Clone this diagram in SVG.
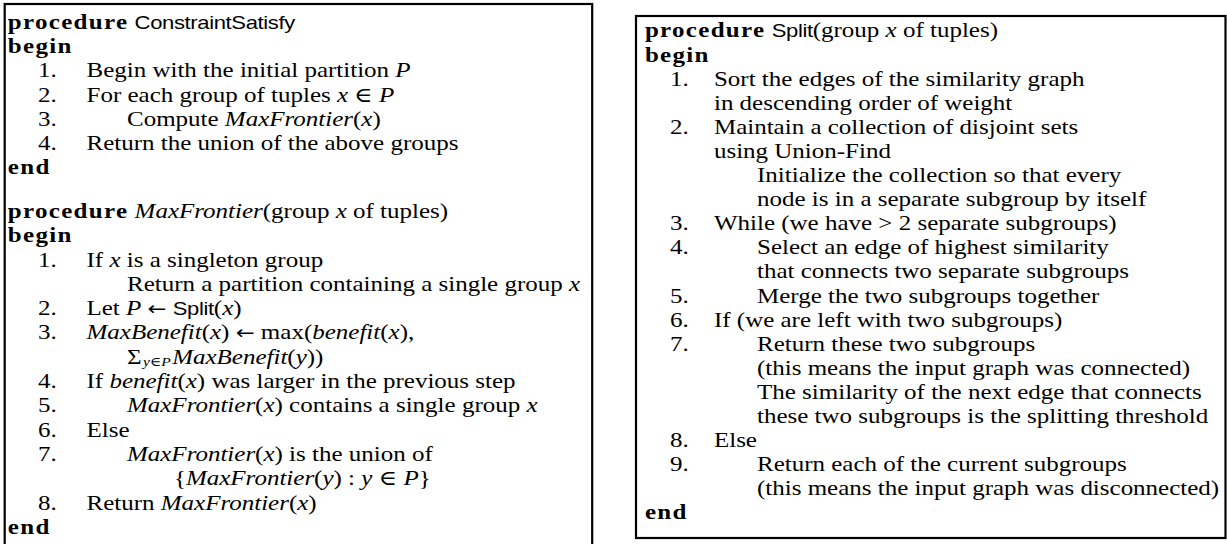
<svg xmlns="http://www.w3.org/2000/svg" width="1227" height="544" viewBox="0 0 1227 544">
<style>
text{font-family:"Liberation Serif","DejaVu Serif",serif;font-size:21px;fill:#000}
.b{font-weight:bold;letter-spacing:1.1px}
.s{font-family:"Liberation Sans","DejaVu Sans",sans-serif;font-size:18.5px;letter-spacing:-0.3px}
.i{font-style:italic}
.sub{font-size:13px}
.ar{font-family:"DejaVu Sans",sans-serif;font-size:19px}
.n{text-anchor:end}
.box{fill:#fff;stroke:#000;stroke-width:2.2}
</style>
<rect width="1227" height="544" fill="#fff"/>
<g id="connectors"/>
<g id="constraint-satisfy-box">
<rect class="box" x="4.7" y="4" width="587.5" height="560"/>
<g transform="translate(5,0) scale(1.19,1)">
<text x="2.4" y="29"><tspan class="b">procedure</tspan> <tspan class="s">ConstraintSatisfy</tspan></text>
<text x="2.4" y="53.2" class="b">begin</text>
<text x="43.5" y="77.4" class="n">1.</text><text x="68.5" y="77.4">Begin with the initial partition <tspan class="i">P</tspan></text>
<text x="43.5" y="101.6" class="n">2.</text><text x="68.5" y="101.6">For each group of tuples <tspan class="i">x</tspan> ∈ <tspan class="i">P</tspan></text>
<text x="43.5" y="125.8" class="n">3.</text><text x="102.5" y="125.8">Compute <tspan class="i">MaxFrontier</tspan>(<tspan class="i">x</tspan>)</text>
<text x="43.5" y="150" class="n">4.</text><text x="68.5" y="150">Return the union of the above groups</text>
<text x="2.4" y="174.2" class="b">end</text>
<text x="2.4" y="218"><tspan class="b">procedure</tspan> <tspan class="i">MaxFrontier</tspan>(group <tspan class="i">x</tspan> of tuples)</text>
<text x="2.4" y="242.3" class="b">begin</text>
<text x="43.5" y="266.6" class="n">1.</text><text x="68.5" y="266.6">If <tspan class="i">x</tspan> is a singleton group</text>
<text x="102.5" y="290.9">Return a partition containing a single group <tspan class="i">x</tspan></text>
<text x="43.5" y="315.2" class="n">2.</text><text x="68.5" y="315.2">Let <tspan class="i">P</tspan> <tspan class="ar">←</tspan> <tspan class="s">Split</tspan>(<tspan class="i">x</tspan>)</text>
<text x="43.5" y="339.5" class="n">3.</text><text x="68.5" y="339.5"><tspan class="i">MaxBenefit</tspan>(<tspan class="i">x</tspan>) <tspan class="ar">←</tspan> max(<tspan class="i">benefit</tspan>(<tspan class="i">x</tspan>),</text>
<text x="102.5" y="363.8">Σ</text>
<text x="116" y="366.2" class="sub"><tspan class="i">y</tspan>∈<tspan class="i">P</tspan></text>
<text x="140.5" y="363.8"><tspan class="i">MaxBenefit</tspan>(<tspan class="i">y</tspan>))</text>
<text x="43.5" y="388.1" class="n">4.</text><text x="68.5" y="388.1">If <tspan class="i">benefit</tspan>(<tspan class="i">x</tspan>) was larger in the previous step</text>
<text x="43.5" y="412.4" class="n">5.</text><text x="102.5" y="412.4"><tspan class="i">MaxFrontier</tspan>(<tspan class="i">x</tspan>) contains a single group <tspan class="i">x</tspan></text>
<text x="43.5" y="436.7" class="n">6.</text><text x="68.5" y="436.7">Else</text>
<text x="43.5" y="461" class="n">7.</text><text x="102.5" y="461"><tspan class="i">MaxFrontier</tspan>(<tspan class="i">x</tspan>) is the union of</text>
<text x="142" y="485.3">{<tspan class="i">MaxFrontier</tspan>(<tspan class="i">y</tspan>) : <tspan class="i">y</tspan> ∈ <tspan class="i">P</tspan>}</text>
<text x="43.5" y="509.6" class="n">8.</text><text x="68.5" y="509.6">Return <tspan class="i">MaxFrontier</tspan>(<tspan class="i">x</tspan>)</text>
<text x="2.4" y="533.9" class="b">end</text>
</g>
</g>
<g id="split-box">
<rect class="box" x="636" y="16" width="589.5" height="522"/>
<g transform="translate(636,0) scale(1.19,1)">
<text x="7.5" y="37.5"><tspan class="b">procedure</tspan> <tspan class="s">Split</tspan>(group <tspan class="i">x</tspan> of tuples)</text>
<text x="7.5" y="61.6" class="b">begin</text>
<text x="44.3" y="85.7" class="n">1.</text><text x="65.5" y="85.7">Sort the edges of the similarity graph</text>
<text x="65.5" y="109.8">in descending order of weight</text>
<text x="44.3" y="133.9" class="n">2.</text><text x="65.5" y="133.9">Maintain a collection of disjoint sets</text>
<text x="65.5" y="158">using Union-Find</text>
<text x="101.7" y="182.1">Initialize the collection so that every</text>
<text x="101.7" y="206.2">node is in a separate subgroup by itself</text>
<text x="44.3" y="230.3" class="n">3.</text><text x="65.5" y="230.3">While (we have &gt; 2 separate subgroups)</text>
<text x="44.3" y="254.4" class="n">4.</text><text x="101.7" y="254.4">Select an edge of highest similarity</text>
<text x="101.7" y="278.5">that connects two separate subgroups</text>
<text x="44.3" y="302.6" class="n">5.</text><text x="101.7" y="302.6">Merge the two subgroups together</text>
<text x="44.3" y="326.7" class="n">6.</text><text x="65.5" y="326.7">If (we are left with two subgroups)</text>
<text x="44.3" y="350.8" class="n">7.</text><text x="101.7" y="350.8">Return these two subgroups</text>
<text x="101.7" y="374.9">(this means the input graph was connected)</text>
<text x="101.7" y="399">The similarity of the next edge that connects</text>
<text x="101.7" y="423.1">these two subgroups is the splitting threshold</text>
<text x="44.3" y="447.2" class="n">8.</text><text x="65.5" y="447.2">Else</text>
<text x="44.3" y="471.3" class="n">9.</text><text x="101.7" y="471.3">Return each of the current subgroups</text>
<text x="101.7" y="495.4">(this means the input graph was disconnected)</text>
<text x="7.5" y="519.5" class="b">end</text>
</g>
</g>
</svg>
